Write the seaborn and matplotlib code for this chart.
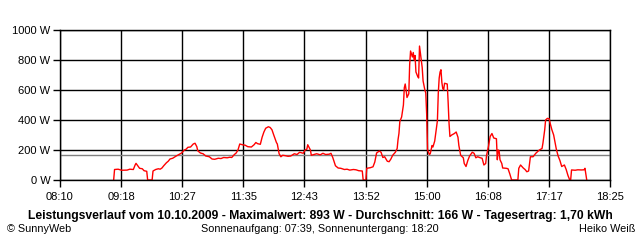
import matplotlib
matplotlib.use("Agg")
import matplotlib.pyplot as plt
import seaborn as sns
import pandas as pd
import numpy as np

# minutes since midnight
minutes = [550, 551, 555, 559, 565, 568, 572, 574, 575, 577, 579, 582, 584, 587, 588,
           593, 594, 597, 600, 602, 604, 606, 609, 611, 613, 616, 620, 623, 626, 629,
           631, 633, 636, 639, 641, 643, 644, 647, 650, 653, 657, 660, 663, 667, 670,
           673, 677, 680, 682, 685, 687, 689, 691, 694, 697, 700, 704, 707, 709, 711,
           714, 716, 718, 720, 723, 725, 727, 729, 732, 733, 735, 737, 739, 742, 745,
           748, 752, 755, 758, 762, 764, 766, 767, 770, 771, 774, 777, 781, 784, 787,
           791, 793, 795, 798, 801, 804, 808, 811, 814, 818, 821, 824, 828, 829, 832,
           833, 837, 840, 842, 844, 847, 849, 851, 853, 856, 858, 860, 862, 865, 867,
           868, 869, 870, 872, 874, 875, 876, 877, 878, 880, 881, 882, 884, 885, 886,
           887, 888, 890, 891, 892, 894, 895, 896, 898, 899, 900, 901, 903, 904, 906,
           907, 908, 909, 912, 913, 914, 915, 916, 917, 918, 919, 920, 923, 924, 925,
           926, 928, 931, 933, 935, 936, 938, 941, 942, 944, 946, 948, 951, 953, 955,
           957, 960, 962, 964, 966, 967, 969, 971, 973, 975, 978, 979, 980, 981, 982,
           984, 985, 989, 991, 993, 995, 1002, 1003, 1005, 1008, 1010, 1012, 1014, 1016, 1019,
           1022, 1026, 1029, 1030, 1031, 1032, 1033, 1035, 1037, 1038, 1040, 1042, 1045, 1047, 1049,
           1051, 1054, 1056, 1058, 1060, 1061, 1062, 1066, 1069, 1073, 1076, 1077, 1079]

power = [0, 70, 72, 65, 66, 72, 70, 100, 111, 95, 78, 75, 62, 58, 0,
         0, 60, 70, 75, 72, 80, 95, 115, 125, 140, 145, 160, 170, 180, 200,
         205, 218, 220, 240, 245, 222, 195, 180, 175, 160, 155, 140, 138, 145, 143,
         150, 148, 152, 150, 170, 180, 200, 240, 235, 232, 222, 220, 235, 250, 242,
         238, 285, 320, 345, 355, 350, 335, 300, 250, 240, 175, 155, 165, 162, 158,
         160, 175, 170, 185, 178, 200, 205, 235, 200, 165, 170, 175, 168, 178, 170,
         172, 178, 150, 95, 80, 78, 70, 72, 66, 70, 68, 62, 60, 0, 0,
         78, 82, 88, 120, 180, 193, 185, 150, 155, 125, 122, 140, 165, 185, 210,
         270, 310, 390, 420, 500, 615, 640, 600, 550, 575, 770, 860, 820, 850, 800,
         830, 720, 690, 680, 893, 800, 750, 660, 600, 580, 440, 200, 170, 175, 230,
         220, 240, 260, 395, 580, 680, 720, 735, 650, 610, 600, 645, 640, 520, 380,
         290, 300, 310, 320, 285, 230, 165, 148, 110, 90, 130, 160, 185, 178, 148,
         155, 148, 145, 100, 110, 165, 220, 290, 310, 280, 275, 135, 200, 195, 135,
         110, 80, 78, 75, 40, 0, 0, 78, 100, 80, 70, 55, 60, 155, 155,
         178, 200, 210, 245, 290, 335, 400, 411, 408, 380, 335, 300, 205, 160, 130,
         90, 100, 70, 30, 0, 0, 67, 65, 68, 67, 68, 78, 0]

average_w = 166
x_tick_labels = ["08:10", "09:18", "10:27", "11:35", "12:43", "13:52",
                 "15:00", "16:08", "17:17", "18:25"]
y_ticks = [0, 200, 400, 600, 800, 1000]
y_tick_labels = ["0 W", "200 W", "400 W", "600 W", "800 W", "1000 W"]
title = ("Leistungsverlauf vom 10.10.2009 - Maximalwert: 893 W - "
         "Durchschnitt: 166 W - Tagesertrag: 1,70 kWh")
footer_left = "\u00a9 SunnyWeb"
footer_center = "Sonnenaufgang: 07:39, Sonnenuntergang: 18:20"
footer_right = "Heiko Wei\u00df"

df = pd.DataFrame({"min": minutes, "W": power})

sns.set_theme(style="white")
plt.rcParams["font.family"] = ["Liberation Sans", "DejaVu Sans"]

fig = plt.figure(figsize=(6.4, 2.4), dpi=100)
ax = fig.add_axes([60 / 640, 1 - 180 / 240, 550 / 640, 150 / 240])

x0, x1 = 490, 1105
xticks = np.linspace(x0, x1, 10)

ax.set_axisbelow(True)
for xt in xticks:
    ax.axvline(xt, color="black", lw=1.0, zorder=1)
for yt in y_ticks:
    ax.axhline(yt, color="black", lw=1.0, zorder=1)
ax.axhline(average_w, color="#808080", lw=1.0, zorder=1.5)

sns.lineplot(data=df, x="min", y="W", ax=ax, color="#ff0000", lw=1.0,
             zorder=2, estimator=None, sort=False)

ax.set_xlim(x0, x1)
ax.set_ylim(0, 1000)
ax.set_xticks(xticks, x_tick_labels)
ax.set_yticks(y_ticks, y_tick_labels)
ax.set_xlabel("")
ax.set_ylabel("")
for s in ax.spines.values():
    s.set_color("black")
    s.set_linewidth(1.0)
    s.set_zorder(3)
ax.tick_params(axis="both", which="both", length=5, width=1.0, color="black",
               labelsize=8, labelcolor="black", pad=2,
               bottom=True, left=True, direction="out")
ax.tick_params(axis="x", pad=4)

fig.text(0.5, 1 - 216 / 240, title, ha="center", va="center",
         fontsize=8.7, fontweight="bold", color="black")
fig.text(7 / 640, 1 - 229 / 240, footer_left, ha="left", va="center",
         fontsize=7.8, color="black")
fig.text(0.5, 1 - 229 / 240, footer_center, ha="center", va="center",
         fontsize=7.8, color="black")
fig.text(635 / 640, 1 - 229 / 240, footer_right, ha="right", va="center",
         fontsize=7.8, color="black")

fig.savefig("out.png", dpi=100, facecolor="white")
